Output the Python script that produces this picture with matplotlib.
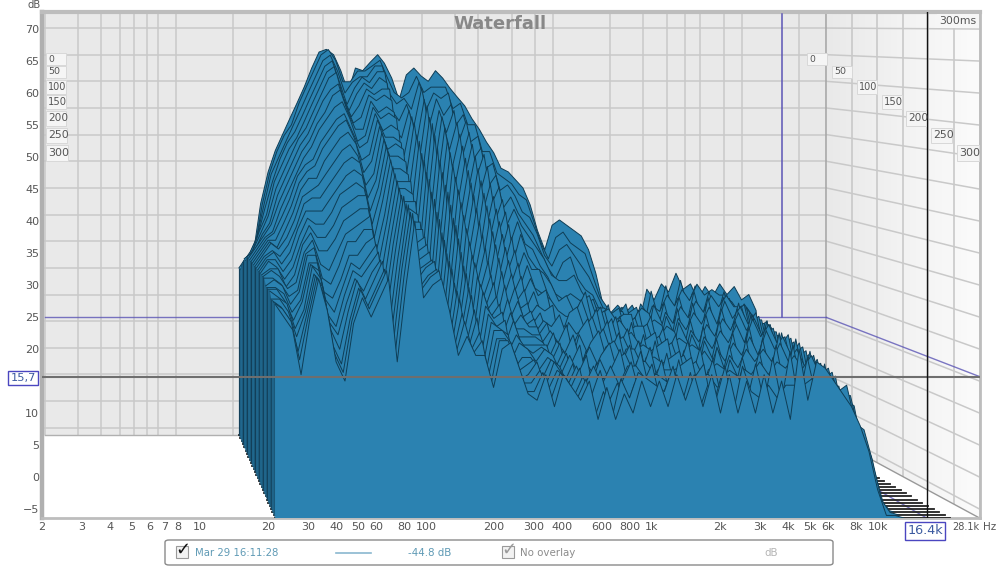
import numpy as np
import matplotlib
matplotlib.use("Agg")
import matplotlib.pyplot as plt
from matplotlib.patches import FancyBboxPatch, Rectangle

# frequency points of each slice, Hz
freq_hz = [21.5, 23.5, 25.7, 28, 30.7, 33.5, 36.6, 40, 43.8, 47.8, 52.3, 57.2,
           62.5, 68.3, 74.6, 81.6, 89.2, 97.5, 107, 117, 127, 139, 152, 166,
           182, 199, 217, 237, 259, 283, 310, 339, 370, 405, 442, 483, 528, 577,
           631, 690, 754, 824, 901, 985, 1077, 1177, 1287, 1406, 1537, 1680,
           1837, 2008, 2195, 2399, 2622, 2866, 3133, 3424, 3743, 4091, 4472, 4888,
           5343, 5840, 6384, 6978, 7627, 8336, 9112, 9960, 10887, 11900]
slice_ms = [0, 11, 22, 33, 44, 56, 67, 78, 89, 100, 111, 122, 133, 144, 156, 167,
            178, 189, 200, 211, 222, 233, 244, 256, 267, 278, 289, 300]

# dB: one line per frequency, one value per slice
db_by_freq = [
    [25, 25, 26, 27, 28, 28, 29, 29, 29, 29, 29, 29, 29, 29, 29, 29, 29, 29, 29, 29, 28, 28, 28, 28, 27, 27, 27, 27],
    [27, 27, 28, 29, 29, 30, 30, 31, 31, 31, 31, 31, 31, 31, 31, 31, 31, 30, 30, 29, 29, 28, 28, 27, 27, 26, 26, 25],
    [28, 29, 31, 32, 33, 33, 33, 33, 33, 33, 33, 33, 33, 32, 32, 31, 30, 30, 29, 28, 28, 27, 26, 26, 25, 24, 24, 23],
    [37, 37, 37, 37, 36, 36, 35, 35, 34, 34, 33, 32, 32, 31, 30, 29, 28, 27, 27, 26, 25, 24, 23, 22, 21, 19, 18, 16],
    [43, 43, 43, 42, 42, 41, 40, 39, 38, 37, 36, 35, 34, 33, 32, 31, 30, 29, 28, 27, 27, 26, 26, 25, 25, 25, 25, 25],
    [47, 47, 46, 46, 45, 44, 43, 42, 41, 40, 39, 38, 37, 36, 36, 35, 34, 34, 33, 33, 33, 32, 32, 32, 31, 31, 31, 31],
    [50, 50, 49, 49, 48, 47, 46, 45, 44, 44, 43, 42, 41, 40, 39, 38, 37, 36, 35, 34, 33, 32, 31, 30, 29, 28, 27, 26],
    [53, 52, 52, 51, 50, 50, 49, 48, 47, 46, 45, 44, 42, 41, 39, 37, 35, 33, 31, 29, 27, 26, 24, 23, 22, 20, 19, 18],
    [56, 56, 55, 54, 53, 52, 51, 50, 49, 47, 46, 44, 43, 41, 39, 37, 35, 33, 30, 28, 26, 24, 22, 21, 19, 17, 16, 15],
    [59, 59, 58, 57, 56, 55, 54, 53, 52, 50, 49, 47, 45, 43, 41, 39, 37, 35, 33, 31, 29, 28, 27, 26, 25, 24, 24, 24],
    [62.5, 62, 61, 60, 59, 58, 57, 55, 54, 52, 51, 49, 47, 45, 43, 42, 40, 38, 36, 35, 33, 32, 31, 30, 30, 29, 29, 28],
    [65.5, 65, 64, 63, 62, 61, 59, 58, 56, 54, 53, 51, 49, 47, 45, 43, 41, 39, 37, 35, 33, 31, 30, 28, 27, 26, 26, 25],
    [66, 66, 65, 64, 63, 62, 60, 59, 57, 55, 54, 52, 50, 48, 46, 44, 42, 40, 38, 37, 35, 33, 32, 31, 30, 29, 29, 28],
    [65, 64, 62, 60, 58, 57, 56, 55, 54, 52, 51, 50, 48, 47, 45, 43, 42, 40, 39, 37, 36, 35, 34, 33, 33, 32, 32, 31],
    [62, 60, 58, 56, 55, 54, 53, 52, 50, 49, 47, 45, 43, 41, 39, 37, 35, 33, 31, 29, 27, 25, 24, 22, 21, 20, 19, 18],
    [58, 60, 60, 59, 58, 56, 54, 52, 51, 50, 48, 47, 45, 44, 43, 42, 41, 39, 38, 37, 36, 35, 34, 33, 32, 32, 31, 30],
    [62.5, 62, 61, 61, 60, 59, 58, 57, 56, 55, 54, 53, 52, 51, 50, 49, 48, 47, 46, 45, 44, 43, 43, 42, 42, 41, 41, 40],
    [62, 62, 61, 60, 59, 58, 57, 55, 54, 52, 51, 49, 48, 46, 44, 43, 41, 39, 38, 36, 35, 33, 32, 31, 30, 29, 29, 28],
    [63.6, 63, 63, 62, 61, 59, 58, 56, 55, 53, 51, 50, 48, 46, 44, 43, 41, 40, 38, 37, 35, 34, 33, 32, 32, 31, 31, 30],
    [65, 64, 63, 62, 60, 59, 57, 55, 54, 52, 50, 49, 47, 45, 44, 42, 41, 39, 38, 37, 36, 35, 34, 33, 33, 32, 32, 31],
    [63.4, 61, 58, 55, 52, 49, 46, 43, 41, 39, 37, 35, 33, 32, 30, 29, 28, 27, 26, 25, 25, 25, 26, 26, 26, 26, 26, 26],
    [60.6, 58, 56, 53, 50, 47, 44, 41, 38, 35, 33, 30, 28, 26, 24, 23, 22, 21, 20, 20, 19, 19, 19, 19, 19, 19, 19, 19],
    [56.5, 57, 57, 56, 55, 54, 53, 51, 50, 48, 47, 45, 44, 42, 41, 39, 38, 36, 35, 33, 32, 31, 29, 28, 27, 25, 24, 22],
    [61.2, 58, 55, 52, 49, 46, 43, 40, 38, 35, 33, 31, 29, 27, 25, 24, 23, 22, 21, 20, 20, 20, 20, 19, 19, 19, 19, 19],
    [62.5, 61, 60, 59, 57, 56, 54, 53, 51, 49, 47, 45, 43, 42, 40, 38, 37, 35, 33, 31, 30, 28, 27, 25, 24, 22, 21, 19],
    [61, 58, 55, 52, 48, 45, 42, 39, 36, 33, 31, 29, 27, 25, 23, 22, 21, 20, 19, 18, 17, 17, 16, 16, 15, 15, 14, 14],
    [60, 59, 58, 57, 55, 54, 52, 50, 48, 46, 44, 42, 40, 38, 36, 34, 32, 31, 29, 28, 27, 25, 24, 23, 22, 21, 21, 20],
    [62, 59, 57, 54, 51, 48, 45, 42, 39, 37, 35, 33, 31, 29, 28, 27, 26, 25, 24, 24, 23, 23, 22, 22, 22, 21, 21, 21],
    [60.6, 59, 58, 56, 55, 53, 51, 49, 47, 45, 43, 41, 39, 37, 35, 33, 31, 29, 28, 26, 25, 24, 23, 21, 20, 19, 18, 17],
    [58.7, 55, 52, 49, 46, 43, 40, 37, 34, 32, 30, 28, 26, 25, 23, 22, 21, 20, 19, 18, 17, 16, 15, 15, 14, 14, 13, 13],
    [57, 56, 54, 53, 51, 49, 47, 45, 43, 41, 39, 37, 35, 33, 31, 29, 27, 25, 23, 22, 20, 19, 17, 16, 15, 14, 13, 12],
    [55.4, 52, 49, 46, 43, 40, 37, 34, 32, 30, 28, 26, 25, 24, 22, 21, 20, 20, 19, 18, 18, 18, 17, 17, 17, 16, 16, 16],
    [53, 52, 50, 48, 47, 45, 42, 40, 38, 36, 34, 32, 30, 28, 26, 24, 22, 20, 19, 18, 17, 16, 15, 14, 13, 13, 12, 11],
    [51, 47, 44, 41, 38, 35, 33, 30, 28, 27, 25, 24, 23, 22, 21, 20, 20, 19, 19, 18, 18, 18, 17, 17, 17, 16, 16, 16],
    [48.6, 47, 45, 43, 41, 39, 37, 35, 33, 31, 29, 27, 25, 23, 22, 21, 20, 19, 18, 18, 17, 17, 16, 16, 15, 15, 14, 14],
    [46.6, 43, 40, 37, 34, 31, 28, 26, 24, 23, 21, 20, 19, 18, 18, 17, 16, 15, 15, 14, 14, 14, 13, 13, 13, 12, 12, 12],
    [43.7, 42, 41, 39, 37, 35, 33, 30, 28, 26, 24, 22, 21, 20, 20, 19, 19, 18, 18, 17, 17, 17, 16, 16, 16, 15, 15, 15],
    [43, 41, 39, 36, 34, 31, 29, 27, 24, 23, 20, 21, 17, 19, 15, 17, 14, 16, 12, 15, 12, 14, 10, 13, 10, 12, 9, 9],
    [41.5, 39, 36, 34, 32, 30, 27, 27, 23, 24, 21, 22, 18, 21, 17, 20, 16, 19, 15, 18, 15, 17, 14, 16, 13, 16, 13, 14],
    [40, 38, 35, 32, 30, 27, 26, 23, 22, 18, 18, 14, 16, 17, 13, 14, 11, 14, 15, 11, 12, 10, 13, 13, 10, 11, 9, 9],
    [36.8, 34, 32, 29, 28, 25, 24, 20, 20, 16, 18, 19, 15, 16, 18, 14, 16, 17, 13, 15, 16, 13, 14, 16, 12, 14, 15, 13],
    [32, 30, 28, 26, 25, 22, 21, 17, 19, 20, 15, 17, 18, 13, 15, 17, 12, 14, 16, 11, 13, 15, 11, 13, 14, 10, 12, 10],
    [28.4, 27, 26, 24, 24, 21, 22, 18, 19, 21, 16, 18, 20, 15, 17, 19, 15, 17, 18, 14, 16, 18, 14, 16, 17, 14, 16, 15],
    [33, 31, 29, 27, 24, 22, 19, 20, 22, 17, 18, 20, 15, 17, 19, 14, 16, 18, 13, 15, 17, 12, 14, 16, 12, 14, 15, 11],
    [34, 32, 30, 28, 25, 21, 21, 23, 18, 19, 21, 16, 18, 20, 15, 17, 19, 15, 17, 18, 14, 16, 18, 14, 15, 17, 14, 15],
    [33, 30, 28, 24, 22, 20, 22, 17, 19, 21, 15, 17, 20, 14, 16, 18, 13, 15, 17, 12, 14, 16, 12, 13, 15, 11, 13, 11],
    [32, 29, 26, 22, 20, 21, 18, 19, 20, 16, 18, 20, 15, 17, 19, 15, 16, 18, 14, 16, 18, 14, 15, 17, 14, 15, 17, 16],
    [31, 28, 24, 21, 19, 17, 19, 20, 15, 17, 19, 14, 16, 18, 13, 15, 17, 12, 14, 16, 12, 14, 15, 11, 13, 15, 11, 12],
    [28.4, 24, 21, 18, 19, 20, 16, 18, 19, 15, 17, 19, 14, 16, 18, 14, 16, 18, 13, 15, 17, 13, 15, 17, 13, 15, 16, 16],
    [24, 20, 18, 16, 18, 14, 17, 19, 14, 16, 18, 13, 15, 17, 12, 14, 17, 12, 14, 16, 11, 13, 16, 11, 13, 15, 10, 11],
    [18, 18, 16, 18, 19, 15, 17, 19, 14, 17, 18, 14, 16, 18, 13, 16, 18, 13, 15, 17, 13, 15, 17, 13, 15, 17, 14, 16],
    [16.5, 15, 17, 18, 14, 16, 18, 13, 16, 18, 12, 15, 17, 12, 15, 17, 11, 14, 16, 11, 13, 16, 11, 13, 15, 10, 12, 10],
    [18, 18, 19, 15, 17, 19, 14, 17, 19, 14, 16, 18, 13, 16, 18, 13, 16, 18, 13, 15, 18, 13, 15, 17, 13, 15, 17, 16],
    [16.5, 17, 14, 17, 19, 13, 16, 18, 13, 16, 18, 12, 15, 17, 12, 15, 17, 11, 14, 17, 11, 14, 16, 11, 13, 16, 10, 10],
    [18, 18, 19, 15, 18, 20, 14, 17, 19, 14, 17, 19, 13, 16, 18, 13, 16, 18, 13, 15, 18, 13, 15, 17, 12, 15, 17, 15],
    [15, 14, 17, 19, 14, 17, 19, 13, 16, 19, 13, 16, 18, 12, 15, 18, 12, 15, 17, 12, 14, 17, 11, 14, 16, 11, 13, 10],
    [21, 21, 15, 18, 20, 14, 17, 20, 14, 17, 19, 13, 16, 19, 13, 16, 18, 13, 15, 18, 12, 15, 17, 12, 15, 17, 12, 16],
    [19, 16, 19, 21, 15, 18, 20, 14, 17, 20, 14, 17, 19, 13, 16, 19, 13, 15, 18, 12, 15, 18, 12, 14, 17, 11, 14, 10],
    [22, 22, 16, 19, 21, 15, 18, 21, 15, 18, 20, 14, 17, 20, 14, 17, 19, 13, 16, 19, 13, 16, 18, 12, 15, 18, 12, 15],
    [20.5, 17, 20, 22, 16, 19, 21, 15, 18, 21, 15, 18, 20, 14, 17, 20, 13, 16, 19, 12, 15, 18, 12, 15, 17, 11, 14, 9],
    [24, 23, 17, 20, 22, 16, 19, 22, 15, 18, 21, 15, 18, 20, 14, 17, 20, 14, 16, 19, 13, 16, 19, 13, 16, 19, 14, 20],
    [21, 18, 21, 23, 17, 20, 22, 16, 19, 22, 16, 19, 21, 15, 18, 21, 14, 17, 20, 13, 16, 19, 12, 15, 18, 11, 14, 12],
    [22, 22, 18, 21, 22, 17, 20, 22, 16, 19, 21, 15, 18, 21, 15, 18, 20, 14, 17, 20, 13, 16, 19, 13, 16, 18, 15, 18],
    [19, 18, 21, 22, 17, 20, 22, 16, 19, 21, 15, 18, 20, 14, 17, 20, 13, 16, 19, 12, 15, 18, 12, 15, 18, 12, 14, 17],
    [21.5, 21, 18, 21, 22, 17, 20, 21, 15, 18, 20, 14, 17, 20, 14, 17, 19, 13, 16, 19, 12, 15, 18, 12, 15, 17, 12, 15],
    [19.5, 19, 20, 21, 16, 19, 20, 15, 18, 20, 14, 17, 19, 13, 16, 18, 13, 16, 18, 12, 14, 17, 11, 14, 16, 11, 13, 13],
    [22, 20, 20, 16, 19, 20, 15, 18, 19, 14, 17, 18, 13, 16, 18, 12, 15, 17, 11, 14, 16, 11, 13, 15, 10, 12, 14, 11],
    [20, 19, 16, 19, 19, 14, 17, 18, 13, 16, 17, 12, 15, 17, 11, 14, 16, 10, 13, 15, 10, 12, 14, 9, 11, 12, 8, 8],
    [21.5, 17, 19, 18, 13, 16, 17, 12, 15, 16, 11, 14, 16, 10, 13, 15, 9, 12, 13, 8, 11, 12, 7, 9, 10, 6, 7, 4],
    [19, 18, 17, 12, 15, 17, 11, 14, 15, 10, 13, 15, 9, 12, 13, 8, 10, 12, 7, 9, 10, 5, 7, 7, 3, 4, 2, -2],
    [20, 16, 13, 15, 16, 11, 13, 14, 9, 12, 14, 8, 10, 12, 7, 9, 10, 5, 7, 8, 3, 5, 5, 1, 2, -1, -4, -6],
    [17, 14, 15, 15, 10, 13, 13, 8, 11, 12, 7, 9, 10, 5, 7, 8, 3, 5, 5, 0, 2, 1, -3, -2, -5, -6, -6, -6],
]
# past these the slices lie flat on the floor
floor_freqs = [13000, 20800]

x_tick_freqs = [2, 3, 4, 5, 6, 7, 8, 10, 20, 30, 40, 50, 60, 80, 100, 200, 300, 400,
                600, 800, 1000, 2000, 3000, 4000, 5000, 6000, 8000, 10000]
x_tick_labels = ["2", "3", "4", "5", "6", "7", "8", "10", "20", "30", "40", "50", "60",
                 "80", "100", "200", "300", "400", "600", "800", "1k", "2k", "3k", "4k",
                 "5k", "6k", "8k", "10k"]
db_ticks = list(range(-5, 75, 5))
# the 15 label gives way to the cursor box
db_labels = ["" if d == 15 else str(d).replace("-", "\u2212") for d in db_ticks]
wall_freqs = x_tick_freqs + [20000]
depth_ms = [0, 50, 100, 150, 200, 250, 300]
cursor_freq = 16400
cursor_db = 15.7
f_min, f_max = 2, 28100
db_floor, db_top = -6.4, 72.6

BLUE = "#2b82b1"
DARK = "#0f3d55"
SIDE = "#1a5879"
GRID = "#c9c9c9"
CURSOR = "#5b55b5"
TXT = "#555555"


def project(f, db, t):
    # depth: t=0 back wall, t=1 front plane. returns front plane coordinates
    L = np.log10(np.asarray(f, dtype=float) / 2)
    db = np.asarray(db, dtype=float)
    x = (1 - t) * (44.5 + 188.5 * L) + t * (42 + 226 * L)
    y = (1 - t) * (28 + 5.33 * (70 - db)) + t * (29 + 6.4 * (70 - db))
    return 2 * 10 ** ((x - 42) / 226), 70 - (y - 29) / 6.4


def fx(x):
    return x / 1000


def fy(y):
    return 1 - y / 567


fig = plt.figure(figsize=(10, 5.67), dpi=100)
ax = fig.add_axes([fx(42), fy(518), fx(979.5 - 42), (518 - 12.4) / 567])
ax.set_xscale("log")
ax.set_xlim(f_min, f_max)
ax.set_ylim(db_floor, db_top)
ax.set_xticks(x_tick_freqs)
ax.set_xticklabels(x_tick_labels)
ax.minorticks_off()
ax.set_yticks(db_ticks)
ax.set_yticklabels(db_labels)
ax.tick_params(length=0, labelsize=8, labelcolor=TXT)
ax.tick_params(axis="x", pad=3)
ax.tick_params(axis="y", pad=2)
for s in ax.spines.values():
    s.set_color("#bdbdbd")
    s.set_linewidth(2)
ax.spines["left"].set_linewidth(3.2)
ax.spines["left"].set_color("#b0b0b0")
ax.spines["top"].set_linewidth(3)

# back wall
bx, by = project([f_min, f_max, f_max, f_min], [db_floor, db_floor, db_top, db_top], 0)
ax.fill(bx, by, color="#e9e9e9", lw=0, zorder=1)

# right wall, gets lighter toward the front
for i in range(24):
    t0, t1 = i / 24, min(1, (i + 1.6) / 24)
    x0, y0 = project([f_max, f_max], [db_floor, db_top], t0)
    x1, y1 = project([f_max, f_max], [db_top, db_floor], t1)
    g = 0.915 + 0.07 * t0
    ax.fill(list(x0) + list(x1), list(y0) + list(y1), color=(g, g, g), lw=0, zorder=1 + i * 0.01)

# grid on the walls
for f in wall_freqs:
    x, y = project([f, f], [db_floor, db_top], 0)
    ax.plot(x, y, color=GRID, lw=1.1, zorder=2)
for d in db_ticks:
    x, y = project([f_min, f_max], [d, d], 0)
    ax.plot(x, y, color=GRID, lw=1.1, zorder=2)
    pts = [project(f_max, d, t) for t in (0, 1)]
    ax.plot([p[0] for p in pts], [p[1] for p in pts], color=GRID, lw=1.1, zorder=2)
for m in depth_ms:
    x, y = project([f_max, f_max], [db_floor, db_top], m / 300)
    ax.plot(x, y, color="#a8a8a8" if m == 0 else GRID, lw=1.2, zorder=2)

# the floor is white
fx0, fy0 = project([f_min, f_max], [db_floor, db_floor], 0)
fx1, fy1 = project([f_max, f_min], [db_floor, db_floor], 1)
ax.fill(np.r_[fx0, fx1], np.r_[fy0, fy1], color="white", lw=0, zorder=2.2)
ax.plot(fx0, fy0, color="#b0b0b0", lw=1, zorder=2.3)
pts = [project(f_max, db_floor, t) for t in (0, 1)]
ax.plot([p[0] for p in pts], [p[1] for p in pts], color="#999999", lw=1, zorder=2.3)

# blue cursor on the back wall and the side wall
x, y = project([f_min, cursor_freq, f_max], [cursor_db] * 3, 0)
ax.plot(x, y, color=CURSOR, lw=1, alpha=0.8, zorder=3)
x, y = project([cursor_freq, cursor_freq], [cursor_db, db_top], 0)
ax.plot(x, y, color=CURSOR, lw=1.1, zorder=3)
pts = [project(f_max, cursor_db, t) for t in (0, 1)]
ax.plot([p[0] for p in pts], [p[1] for p in pts], color=CURSOR, lw=1, alpha=0.8, zorder=3)
pts = [project(cursor_freq, db_floor, t) for t in (0, 1)]
ax.plot([p[0] for p in pts], [p[1] for p in pts], color=CURSOR, lw=1, alpha=0.8, zorder=3)

# the slices, back to front
table = np.array(db_by_freq, dtype=float)
freqs = np.array(freq_hz + floor_freqs, dtype=float)
z = 4.0
for i, ms in enumerate(slice_ms):
    t = ms / 300
    row = np.r_[table[:, i], db_floor, db_floor]
    xt, yt = project(freqs, row, t)
    xb, yb = project(freqs, np.full(freqs.shape, db_floor), t)
    ax.plot(xb, yb, color="#222222", lw=1.3, zorder=z)
    ax.fill(np.r_[xt[:-1], xb[-2::-1]], np.r_[yt[:-1], yb[-2::-1]], color=BLUE, lw=0, zorder=z + 0.05)
    ax.plot(xt[:-1], yt[:-1], color=DARK, lw=0.7, zorder=z + 0.1)
    # dark side column up to the next slice
    if i + 1 < len(slice_ms):
        t2 = slice_ms[i + 1] / 300
        x1, y1 = project([freqs[0], freqs[0]], [db_floor, row[0]], t)
        x2, y2 = project([freqs[0], freqs[0]], [table[0, i + 1], db_floor], t2)
        col = "#123f59" if i % 3 == 0 else SIDE
        ax.fill(np.r_[x1, x2], np.r_[y1, y2], color=col, lw=0, zorder=z + 0.2)
    z += 0.3

# black cursor in the front plane
ax.axhline(cursor_db, color="#6e6e6e", lw=1.5, zorder=40)
ax.axvline(cursor_freq, color="#111111", lw=1, zorder=40)

# depth labels, they grow toward the front
left_y = [59, 72, 87, 102, 118, 135, 153]
right_x = [807, 832, 857, 882, 906, 931, 957]
label_w = [20, 20, 20, 20, 20, 21, 22]
label_h = [12, 12, 13, 14, 15, 15, 15]
label_fs = [6.6, 6.8, 7, 7.2, 7.6, 7.8, 8]
for m, ly, rx, w, h, fs in zip(depth_ms, left_y, right_x, label_w, label_h, label_fs):
    for bx0 in (46, rx):
        fig.add_artist(Rectangle((fx(bx0), fy(ly + h / 2)), w / 1000, h / 567, transform=fig.transFigure,
                                 fc="#f5f5f5", ec="#d8d8d8", lw=0.7, zorder=45))
        fig.text(fx(bx0 + 2), fy(ly), str(m), fontsize=fs, color=TXT, va="center", ha="left", zorder=50)
fig.text(fx(958), fy(21), "300ms", fontsize=7.8, color=TXT, va="center", ha="center",
         bbox=dict(boxstyle="square,pad=0.2", fc="#f6f6f6", ec="none"), zorder=50)

fig.text(fx(500), fy(24), "Waterfall", fontsize=13, fontweight="bold", color="#888888",
         ha="center", va="center", zorder=50)
fig.text(fx(34), fy(5), "dB", fontsize=7.2, color=TXT, ha="center", va="center")
fig.text(fx(990), fy(527), "Hz", fontsize=7.4, color=TXT, ha="center", va="center")
fig.text(fx(966), fy(527), "28.1k", fontsize=7, color=TXT, ha="center", va="center")

cursor_box = dict(boxstyle="square,pad=0.2", fc="white", ec="#4a46c0", lw=1)
fig.text(fx(23), fy(378), "15,7", fontsize=8.2, color="#3b5aa0", ha="center", va="center", bbox=cursor_box, zorder=50)
fig.text(fx(925), fy(531), "16.4k", fontsize=9.2, color="#3b5aa0", ha="center", va="center", bbox=cursor_box, zorder=50)

# legend strip under the plot
fig.add_artist(FancyBboxPatch((fx(165), fy(565)), fx(668), 25 / 567, boxstyle="round,pad=0,rounding_size=0.004",
                              transform=fig.transFigure, fc="white", ec="#8a8a8a", lw=1))
for cx, col in ((182, "#111111"), (508, "#9a9a9a")):
    fig.add_artist(Rectangle((fx(cx - 6), fy(558)), 12 / 1000, 12 / 567, transform=fig.transFigure,
                             fc="#f2f2f2", ec="#9a9a9a", lw=0.8))
    fig.text(fx(cx + 1), fy(550), "\u2713", fontsize=13, fontweight="bold", color=col, ha="center", va="center")
fig.text(fx(195), fy(553), "Mar 29 16:11:28", fontsize=7.3, color="#5f9ab5", va="center")
fig.add_artist(plt.Line2D([fx(336), fx(371)], [fy(553), fy(553)], color="#8ab8cf", lw=1.2))
fig.text(fx(408), fy(553), "-44.8 dB", fontsize=7.4, color="#5f9ab5", va="center")
fig.text(fx(520), fy(553), "No overlay", fontsize=7.4, color="#8c8c8c", va="center")
fig.text(fx(771), fy(553), "dB", fontsize=7.4, color="#b5b5b5", ha="center", va="center")

fig.savefig("out.png", dpi=100)
